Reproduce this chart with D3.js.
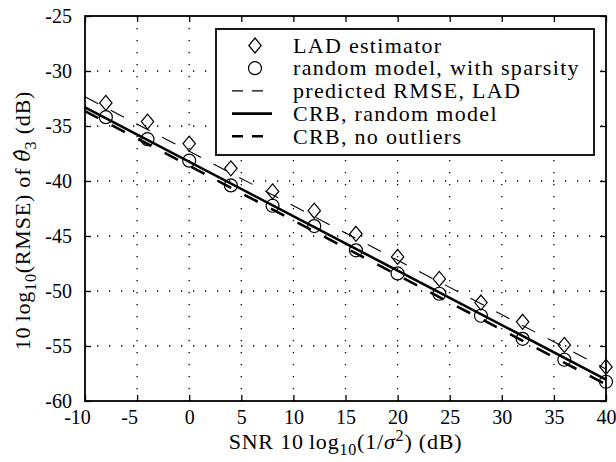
<!DOCTYPE html>
<html>
<head>
<meta charset="utf-8">
<script src="https://cdn.jsdelivr.net/npm/d3@7"></script>
<style>
  body { margin: 0; background: #fff; }
  text { font-family: "Liberation Serif", "DejaVu Serif", serif; fill: #000; }
</style>
</head>
<body>
<svg id="chart"></svg>
<script>
const snrTicks = [-10, -5, 0, 5, 10, 15, 20, 25, 30, 35, 40];
const rmseTicks = [-25, -30, -35, -40, -45, -50, -55, -60];

// simulated points
const snrPoints = [-8, -4, 0, 4, 8, 12, 16, 20, 24, 28, 32, 36, 40];
const ladEstimator = [-32.9, -34.6, -36.6, -38.85, -40.95, -42.7, -44.8, -46.9, -48.9, -51.05, -52.8, -54.9, -56.9];
const randomSparse = [-34.2, -36.2, -38.15, -40.4, -42.25, -44.1, -46.3, -48.4, -50.25, -52.25, -54.35, -56.25, -58.25];

// straight curves, end values
const snrLine = [-10, 40];
const predictedLad = [-32.35, -57.1];
const crbRandom = [-33.3, -58.05];
const crbNoOutliers = [-33.65, -58.5];

const legendLabels = [
  'LAD estimator',
  'random model, with sparsity',
  'predicted RMSE, LAD',
  'CRB, random model',
  'CRB, no outliers',
];

const W = 616, H = 462;
const MARGIN = { top: 16, right: 10, bottom: 61, left: 85 };
const WIDTH = W - MARGIN.left - MARGIN.right;
const HEIGHT = H - MARGIN.top - MARGIN.bottom;

const svg = d3.select('#chart').attr('width', W).attr('height', H);
const chart = svg.append('g')
  .attr('transform', `translate(${MARGIN.left},${MARGIN.top})`);

const x = d3.scaleLinear().domain([-10, 40]).range([0, WIDTH]);
const y = d3.scaleLinear().domain([-60, -25]).range([HEIGHT, 0]);

// dotted grid
chart.append('g').selectAll('line')
  .data(snrTicks.slice(1, -1))
  .enter().append('line')
    .attr('x1', d => x(d)).attr('x2', d => x(d))
    .attr('y1', 0).attr('y2', HEIGHT)
    .attr('stroke', '#000').attr('stroke-width', 1.3)
    .attr('stroke-dasharray', '1.3,10.7');
chart.append('g').selectAll('line')
  .data(rmseTicks.slice(1, -1))
  .enter().append('line')
    .attr('x1', 0).attr('x2', WIDTH)
    .attr('y1', d => y(d)).attr('y2', d => y(d))
    .attr('stroke', '#000').attr('stroke-width', 1.3)
    .attr('stroke-dasharray', '1.3,10.7');

// axes with inner ticks on all sides
const TICK = 6;
const fmt = d => String(d);
const xb = chart.append('g').attr('class', 'axis axis-x')
  .attr('transform', `translate(0,${HEIGHT})`)
  .call(d3.axisBottom(x).tickValues(snrTicks).tickSize(-TICK).tickPadding(9).tickFormat(fmt));
const xt = chart.append('g').call(d3.axisTop(x).tickValues(snrTicks).tickSize(-TICK).tickFormat(''));
const yl = chart.append('g').attr('class', 'axis axis-y')
  .call(d3.axisLeft(y).tickValues(rmseTicks).tickSize(-TICK).tickPadding(13).tickFormat(fmt));
const yr = chart.append('g').attr('transform', `translate(${WIDTH},0)`)
  .call(d3.axisRight(y).tickValues(rmseTicks).tickSize(-TICK).tickFormat(''));

[xb, xt, yl, yr].forEach(g => {
  g.select('.domain').remove();
  g.selectAll('.tick line').attr('stroke', '#000').attr('stroke-width', 1.3);
  g.selectAll('.tick text')
    .style('font-family', '"Liberation Serif", serif')
    .style('font-size', '20px')
    .attr('fill', '#000');
});
// negative labels hang the minus sign to the left
xb.selectAll('.tick text').attr('dx', d => (d < 0 ? -8 : 0));
yl.selectAll('.tick text').attr('dy', '0.32em');

chart.append('rect')
  .attr('width', WIDTH).attr('height', HEIGHT)
  .attr('fill', 'none').attr('stroke', '#000').attr('stroke-width', 1.8);

// curves
const line = d3.line().x(d => x(d[0])).y(d => y(d[1]));
const curves = [
  { values: predictedLad, width: 1.1, dash: '15,14' },
  { values: crbRandom, width: 2.6, dash: null },
  { values: crbNoOutliers, width: 2.6, dash: '15,15' },
];
curves.forEach(c => {
  chart.append('path')
    .datum(snrLine.map((s, i) => [s, c.values[i]]))
    .attr('d', line)
    .attr('fill', 'none').attr('stroke', '#000')
    .attr('stroke-width', c.width)
    .attr('stroke-dasharray', c.dash);
});

// markers
const diamond = (cx, cy) => `M${cx},${cy - 7.5}L${cx + 6.2},${cy}L${cx},${cy + 7.5}L${cx - 6.2},${cy}Z`;
chart.append('g').selectAll('path')
  .data(snrPoints.map((s, i) => [s, ladEstimator[i]]))
  .enter().append('path')
    .attr('d', d => diamond(x(d[0]), y(d[1])))
    .attr('fill', 'none').attr('stroke', '#000').attr('stroke-width', 1.2);
chart.append('g').selectAll('circle')
  .data(snrPoints.map((s, i) => [s, randomSparse[i]]))
  .enter().append('circle')
    .attr('cx', d => x(d[0])).attr('cy', d => y(d[1]))
    .attr('r', 6.5)
    .attr('fill', 'none').attr('stroke', '#000').attr('stroke-width', 1.2);

// legend
const legend = svg.append('g').attr('transform', 'translate(216,29)');
legend.append('rect')
  .attr('width', 378).attr('height', 126)
  .attr('fill', '#fff').attr('stroke', '#000').attr('stroke-width', 1.8);
const rowY = i => 16.5 + i * 22.7;
legendLabels.forEach((label, i) => {
  legend.append('text')
    .attr('x', 77).attr('y', rowY(i)).attr('dy', '0.33em')
    .style('font-size', '22px')
    .style('letter-spacing', '1.3px')
    .text(label);
});
legend.append('path').attr('d', diamond(39, rowY(0)))
  .attr('fill', 'none').attr('stroke', '#000').attr('stroke-width', 1.2);
legend.append('circle').attr('cx', 39).attr('cy', rowY(1)).attr('r', 6.5)
  .attr('fill', 'none').attr('stroke', '#000').attr('stroke-width', 1.2);
[[2, 1.1, '11,9'], [3, 2.6, null], [4, 2.6, '11,9']].forEach(([i, w, dash]) => {
  legend.append('line')
    .attr('x1', 16).attr('x2', 56).attr('y1', rowY(i)).attr('y2', rowY(i))
    .attr('stroke', '#000').attr('stroke-width', w).attr('stroke-dasharray', dash);
});

// axis titles
const xTitle = svg.append('text')
  .attr('x', MARGIN.left + WIDTH / 2).attr('y', 449)
  .attr('text-anchor', 'middle').style('font-size', '22px')
  .style('letter-spacing', '0.8px');
xTitle.append('tspan').text('SNR 10\u2009log');
xTitle.append('tspan').attr('dy', 6).style('font-size', '16px').text('10');
xTitle.append('tspan').attr('dy', -6).text('(1/');
xTitle.append('tspan').style('font-style', 'italic').text('σ');
xTitle.append('tspan').attr('dy', -8).style('font-size', '16px').text('2');
xTitle.append('tspan').attr('dy', 8).text(')  (dB)');

const yTitle = svg.append('text')
  .attr('transform', `translate(30,${MARGIN.top + HEIGHT / 2 + 12}) rotate(-90)`)
  .attr('text-anchor', 'middle').style('font-size', '22px')
  .style('letter-spacing', '0.8px');
yTitle.append('tspan').text('10\u2009log');
yTitle.append('tspan').attr('dy', 6).style('font-size', '16px').text('10');
yTitle.append('tspan').attr('dy', -6).text('(RMSE) of ');
yTitle.append('tspan')
  .style('font-family', '"DejaVu Serif", serif')
  .style('font-style', 'italic').style('font-size', '20px')
  .style('letter-spacing', '0px')
  .text('θ\u0302');
yTitle.append('tspan').attr('dy', 6).style('font-size', '16px').text('3');
yTitle.append('tspan').attr('dy', -6).text(' (dB)');
</script>
</body>
</html>
